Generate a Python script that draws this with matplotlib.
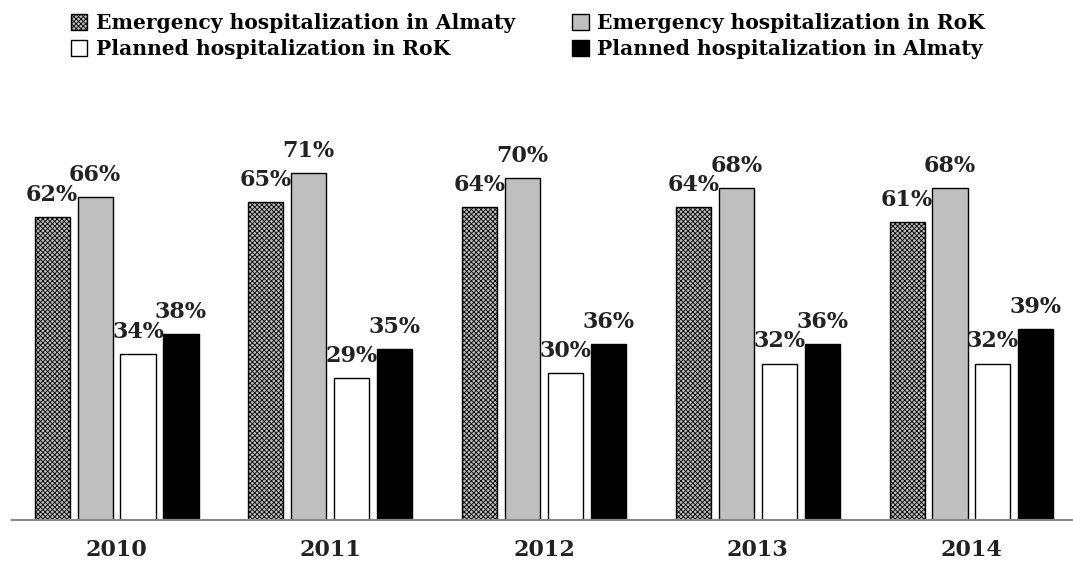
import numpy as np
import matplotlib
matplotlib.use("Agg")
import matplotlib.pyplot as plt

# data
years = ["2010", "2011", "2012", "2013", "2014"]
emerg_almaty = [62, 65, 64, 64, 61]
emerg_rok = [66, 71, 70, 68, 68]
planned_rok = [34, 29, 30, 32, 32]
planned_almaty = [38, 35, 36, 36, 39]

FONT = "DejaVu Serif"
plt.rcParams["font.family"] = FONT
plt.rcParams["font.weight"] = "bold"
plt.rcParams["hatch.linewidth"] = 0.6

BAR_W = 0.164
STEP = 0.201

fig = plt.figure(figsize=(10.73, 5.67), dpi=100)
ax = fig.add_axes([0.0112, 0.0829, 0.9888, 0.6896])

x = np.arange(len(years))
series = [
    ("Emergency hospitalization in Almaty", emerg_almaty,
     dict(facecolor="#bdbdbd", hatch="xxxxxxx", edgecolor="black")),
    ("Emergency hospitalization in RoK", emerg_rok,
     dict(facecolor="#bfbfbf", edgecolor="black")),
    ("Planned hospitalization in RoK", planned_rok,
     dict(facecolor="white", edgecolor="black")),
    ("Planned hospitalization in Almaty", planned_almaty,
     dict(facecolor="black", edgecolor="black")),
]

handles = []
for i, (name, vals, style) in enumerate(series):
    pos = x + (i - 1.5) * STEP
    bars = ax.bar(pos, vals, width=BAR_W, linewidth=1.0, label=name, **style)
    handles.append(bars)
    for b, v in zip(bars, vals):
        ax.annotate(f"{v}%", (b.get_x() + b.get_width() / 2, v),
                    xytext=(0, 8), textcoords="offset points",
                    ha="center", va="bottom", fontsize=16,
                    fontweight="bold", color="#222222")

ax.set_xlim(-0.489, 4.475)
ax.set_ylim(0, 80)
ax.set_xticks(x)
ax.set_xticklabels(years, fontsize=16, fontweight="bold", color="#222222")
ax.tick_params(axis="x", length=0, pad=14)
ax.set_yticks([])
for s in ["top", "right", "left"]:
    ax.spines[s].set_visible(False)
ax.spines["bottom"].set_color("#888888")
ax.spines["bottom"].set_linewidth(1.5)

# legend: row 1 emergency, row 2 planned (column-major order)
order = [0, 2, 1, 3]
fig.legend([handles[k] for k in order], [series[k][0] for k in order],
           loc="upper left", bbox_to_anchor=(0.055, 0.998), ncol=2,
           frameon=False, handlelength=0.8, handleheight=0.8,
           handletextpad=0.4, columnspacing=2.85, labelspacing=0.28,
           borderaxespad=0.2, prop={"family": FONT, "weight": "bold", "size": 14.6})

fig.savefig("out.png", dpi=100)
